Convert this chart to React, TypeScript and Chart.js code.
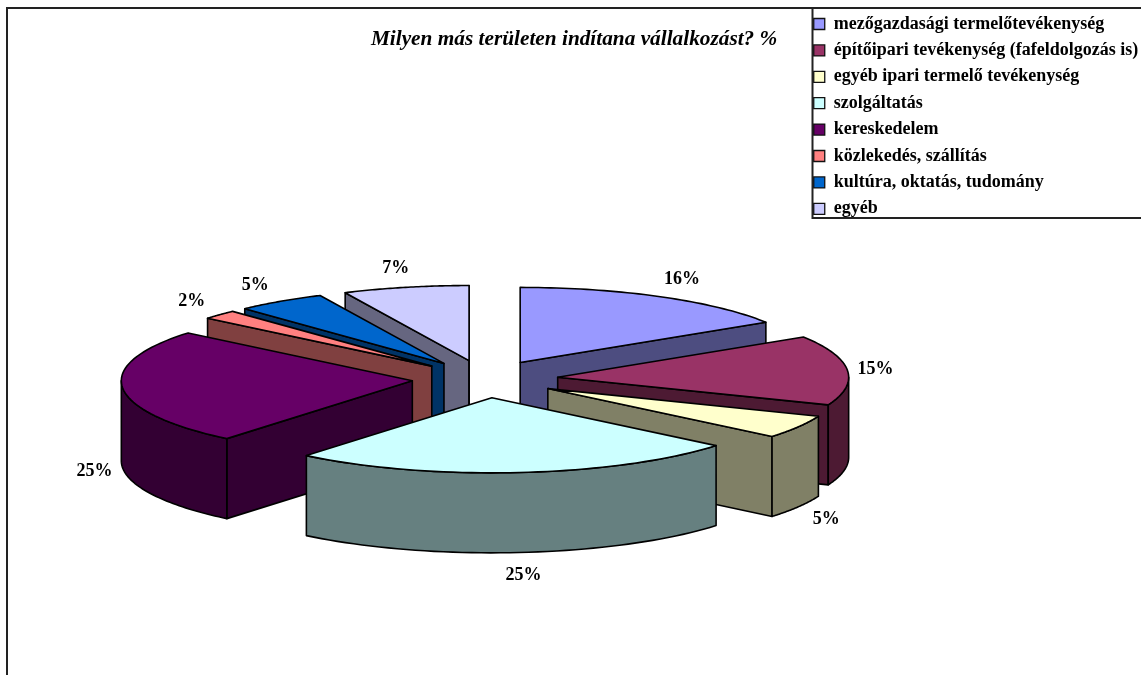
import React, { useEffect, useRef } from "react";
import { Chart, registerables } from "chart.js";

Chart.register(...registerables);

const categories = [
  "mezőgazdasági termelőtevékenység",
  "építőipari tevékenység (fafeldolgozás is)",
  "egyéb ipari termelő tevékenység",
  "szolgáltatás",
  "kereskedelem",
  "közlekedés, szállítás",
  "kultúra, oktatás, tudomány",
  "egyéb",
];
const shares = [16, 15, 5, 25, 25, 2, 5, 7];
const topColors = ["#9999FF", "#993366", "#FFFFCC", "#CCFFFF", "#660066", "#FF8080", "#0066CC", "#CCCCFF"];
const wallColors = ["#4D4D80", "#4D1A33", "#808066", "#668080", "#330033", "#804040", "#003366", "#666680"];
const titleText = "Milyen más területen indítana vállalkozást? %";

const FONT = "'Liberation Serif', 'Times New Roman', serif";
const PIE_X = 485;
const PIE_Y = 379;
const SQUASH = 0.258;
const DEPTH = 80;
const RADIUS = 291;
const EXPLODE = 73;

const pie3d = {
  id: "pie3d",
  beforeDraw(chart: any) {
    const c = chart.ctx;
    c.save();
    c.fillStyle = "#fff";
    c.fillRect(0, 0, chart.width, chart.height);
    c.strokeStyle = "#222";
    c.lineWidth = 2;
    c.beginPath();
    c.moveTo(7, 2000);
    c.lineTo(7, 8);
    c.lineTo(2000, 8);
    c.stroke();
    c.beginPath();
    c.moveTo(812.5, 8);
    c.lineTo(812.5, 218);
    c.lineTo(2000, 218);
    c.stroke();
    c.restore();
  },
  afterDatasetsUpdate(chart: any) {
    // explode every wedge along its own mid-angle
    const arcs = chart.getDatasetMeta(0).data;
    chart.$pieCentre = { x: arcs[0].x, y: arcs[0].y };
    arcs.forEach((el: any) => {
      const mid = (el.startAngle + el.endAngle) / 2;
      el.x += Math.cos(mid) * EXPLODE;
      el.y += Math.sin(mid) * EXPLODE;
    });
  },
  beforeDatasetsDraw(chart: any) {
    const c = chart.ctx;
    const arcs = chart.getDatasetMeta(0).data;
    const cx = chart.$pieCentre.x;
    const cy = chart.$pieCentre.y;
    const dx = PIE_X - cx;
    const geom = arcs.map((el: any, i: number) => {
      const mid = (el.startAngle + el.endAngle) / 2;
      const pt = (a: number, r: number, z: number) => [
        el.x + dx + r * Math.cos(a),
        PIE_Y + SQUASH * (el.y - cy + r * Math.sin(a)) + z,
      ];
      return { i, mid, start: el.startAngle, end: el.endAngle, R: el.outerRadius, pt };
    });
    chart.$pieGeom = geom;

    const quad = (pts: number[][], fill: string) => {
      c.beginPath();
      pts.forEach((q, n) => (n ? c.lineTo(q[0], q[1]) : c.moveTo(q[0], q[1])));
      c.closePath();
      c.fillStyle = fill;
      c.fill();
      c.strokeStyle = "#000";
      c.lineWidth = 1.6;
      c.stroke();
    };

    c.save();
    c.lineJoin = "round";
    [...geom]
      .sort((a: any, b: any) => Math.sin(a.mid) - Math.sin(b.mid))
      .forEach((g: any) => {
        const wall = wallColors[g.i];
        if (Math.cos(g.start) < 0) {
          const o = g.pt(g.start, 0, 0);
          const e = g.pt(g.start, g.R, 0);
          quad([o, e, [e[0], e[1] + DEPTH], [o[0], o[1] + DEPTH]], wall);
        }
        if (Math.cos(g.end) > 0) {
          const o = g.pt(g.end, 0, 0);
          const e = g.pt(g.end, g.R, 0);
          quad([o, e, [e[0], e[1] + DEPTH], [o[0], o[1] + DEPTH]], wall);
        }
        const a0 = Math.max(g.start, 0);
        const a1 = Math.min(g.end, Math.PI);
        if (a1 > a0) {
          const top: number[][] = [];
          const bottom: number[][] = [];
          for (let n = 0; n <= 48; n++) {
            const a = a0 + ((a1 - a0) * n) / 48;
            const q = g.pt(a, g.R, 0);
            top.push(q);
            bottom.unshift([q[0], q[1] + DEPTH]);
          }
          quad([...top, ...bottom], wall);
        }
      });
    c.restore();

    c.save();
    c.translate(dx, PIE_Y);
    c.scale(1, SQUASH);
    c.translate(0, -cy);
  },
  afterDatasetsDraw(chart: any) {
    const c = chart.ctx;
    c.restore();
    const geom = chart.$pieGeom;
    c.save();
    c.lineJoin = "round";
    c.strokeStyle = "#000";
    c.lineWidth = 1.6;
    geom.forEach((g: any) => {
      c.beginPath();
      const o = g.pt(g.start, 0, 0);
      c.moveTo(o[0], o[1]);
      for (let n = 0; n <= 48; n++) {
        const q = g.pt(g.start + ((g.end - g.start) * n) / 48, g.R, 0);
        c.lineTo(q[0], q[1]);
      }
      c.closePath();
      c.stroke();
    });
    c.fillStyle = "#000";
    c.font = `bold 18px ${FONT}`;
    c.textAlign = "center";
    c.textBaseline = "middle";
    geom.forEach((g: any) => {
      const s = Math.cos(g.mid);
      const front = Math.sin(g.mid) > 0;
      const q = g.pt(g.mid, g.R, front ? DEPTH : 0);
      const lx = q[0] + 28 * Math.sign(s) * Math.min(1, 1.6 * Math.abs(s));
      const ly = q[1] + 21 * Math.sin(g.mid) + 1.5;
      c.fillText(`${shares[g.i]}%`, lx, ly);
    });
    c.restore();
  },
};

export default function App() {
  const ref = useRef<HTMLCanvasElement>(null);
  useEffect(() => {
    const chart = new Chart(ref.current as HTMLCanvasElement, {
      type: "pie",
      data: {
        labels: categories,
        datasets: [
          {
            data: shares,
            backgroundColor: topColors,
            borderWidth: 0,
            clip: false,
          } as any,
        ],
      },
      options: {
        responsive: false,
        animation: false,
        radius: RADIUS,
        layout: { padding: { top: 6.6, right: -7.2, left: 0, bottom: 0 } },
        plugins: {
          tooltip: { enabled: false },
          title: {
            display: true,
            text: titleText,
            color: "#000",
            font: { family: FONT, size: 21.3, weight: "bold", style: "italic" },
            padding: { top: 20.6, bottom: 0 },
          },
          legend: {
            display: true,
            position: "right",
            align: "start",
            labels: {
              boxWidth: 11,
              boxHeight: 11,
              padding: 8.4,
              color: "#000",
              font: { family: FONT, size: 18, weight: "bold" },
              generateLabels(c: any) {
                const base = (Chart as any).overrides.doughnut.plugins.legend.labels.generateLabels(c);
                return base.map((l: any) => ({ ...l, strokeStyle: "#111", lineWidth: 1.3 }));
              },
            },
          },
        },
      } as any,
      plugins: [pie3d as any],
    });
    return () => chart.destroy();
  }, []);
  return (
    <canvas
      ref={ref}
      width={1141}
      height={675}
      style={{ position: "fixed", left: 0, top: 0, display: "block" }}
    />
  );
}
